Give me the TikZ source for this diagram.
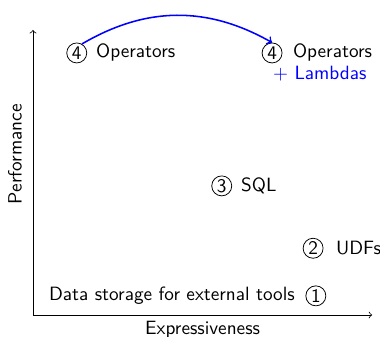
\documentclass[tikz,border=0pt]{standalone}
\usetikzlibrary{positioning}
\usetikzlibrary{arrows}
\tikzstyle{num}=[circle,draw,thin,inner sep=0pt,minimum size=10.4pt,font=\sffamily]
\tikzstyle{lbl}=[font=\sffamily]
\tikzstyle{axis}=[draw,->]
\tikzstyle{jump}=[draw,thick,blue,->]

\begin{document}
\begin{tikzpicture}[node distance=1.2pt]
    \useasboundingbox (-0.603,-0.384) rectangle (6.343,5.758);
    % Axes first
    \coordinate (o) at (0,0);
    \coordinate (xend) at (6.20,0);
    \coordinate (yend) at (0,5.21);
    \path[axis] (o) -- (xend);
    \path[axis] (o) -- (yend);
    \node[lbl] (xlab) at (3.10,-0.27) {Expressiveness};
    \node[lbl,rotate=90] (ylab) at (-0.33,2.94) {Performance};

    % Then the circled numbers
    \foreach \pos/\name/\label in {{(0.80,4.79)/opl/4}, {(4.37,4.79)/opr/4},
    {(3.45,2.36)/sql/3}, {(5.12,1.22)/udf/2}, {(5.17,0.35)/ext/1}}
        \node[num] (\name) at \pos {\label};

    % and their texts
    \node[lbl,right=of opl] (opltxt) {Operators};
    \node[lbl,right=2pt of opr] (oprtxt) {Operators};
    \node[lbl,right=of sql] (sqltxt) {SQL};
    \node[lbl,right=3pt of udf] (udftxt) {UDFs};
    \node[lbl,left=2pt of ext] (exttxt) {Data storage for external tools};
    \node[lbl,text=blue,anchor=east] (lam) at (6.22,4.42) {$+$ Lambdas};

    \path[jump,bend left=30] (opl.60) to (opr.north);
\end{tikzpicture}
\end{document}
